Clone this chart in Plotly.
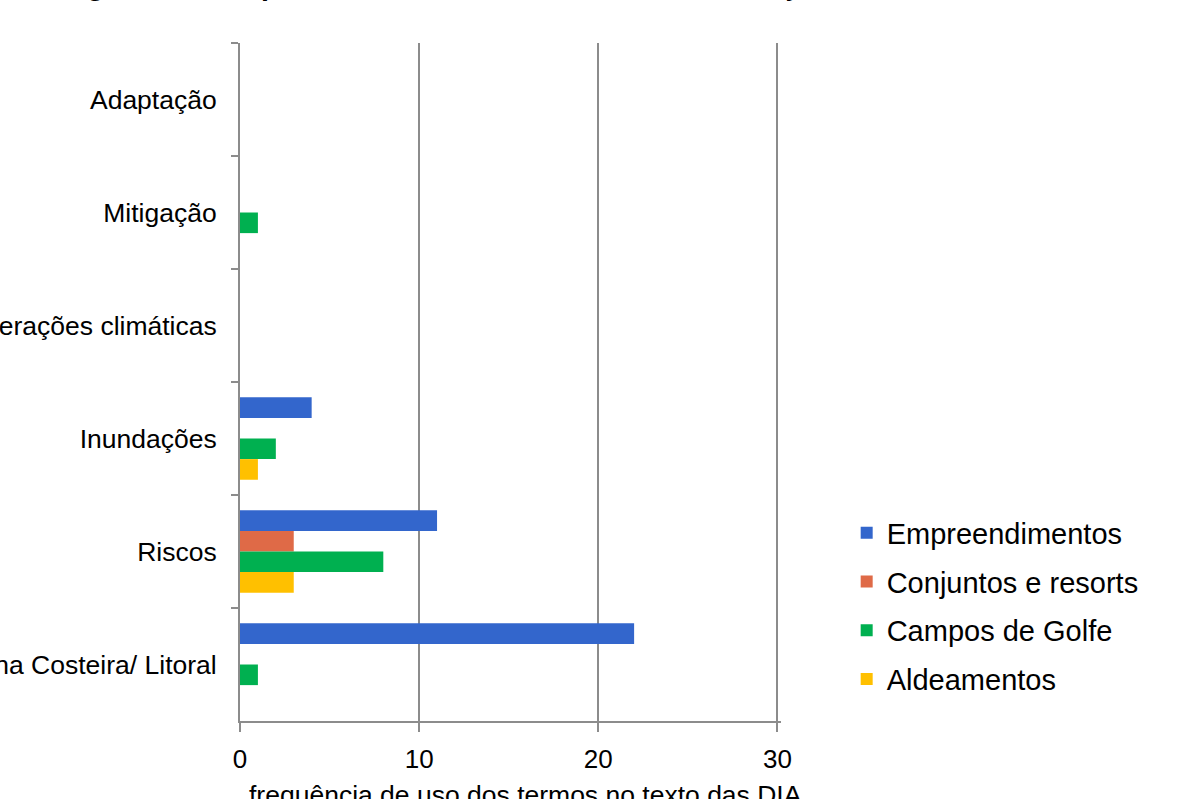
import plotly.graph_objects as go

# Terms searched in the DIA texts (top to bottom)
categories = [
    "Adaptação",
    "Mitigação",
    "Alterações climáticas",
    "Inundações",
    "Riscos",
    "Zona Costeira/ Litoral",
]

series_names = ["Empreendimentos", "Conjuntos e resorts", "Campos de Golfe", "Aldeamentos"]

empreendimentos = [0, 0, 0, 4, 11, 22]
conjuntos_resorts = [0, 0, 0, 0, 3, 0]
campos_golfe = [0, 1, 0, 2, 8, 1]
aldeamentos = [0, 0, 0, 1, 3, 0]

x_ticks = [0, 10, 20, 30]

series_values = [empreendimentos, conjuntos_resorts, campos_golfe, aldeamentos]
colors = ["#3366CC", "#DF6A47", "#00B050", "#FFC000"]

FONT = "Liberation Sans, Arial, sans-serif"
AXIS_GREY = "#8C8C8C"

fig = go.Figure()
for name, vals, col in zip(series_names, series_values, colors):
    fig.add_trace(
        go.Bar(
            y=categories,
            x=vals,
            name=name,
            orientation="h",
            marker=dict(color=col, line=dict(width=0)),
            legendgroup=name,
        )
    )

fig.update_layout(
    width=1204,
    height=799,
    margin=dict(l=240, r=423, t=43, b=78, pad=0),
    paper_bgcolor="white",
    plot_bgcolor="white",
    barmode="group",
    bargap=0.27,
    bargroupgap=0,
    font=dict(family=FONT, size=26, color="#000000"),
    showlegend=True,
    legend=dict(
        x=1.1214,
        xanchor="left",
        y=0.315,
        yanchor="top",
        font=dict(family=FONT, size=29, color="#000000"),
        traceorder="grouped",
        tracegroupgap=8,
        bgcolor="rgba(0,0,0,0)",
        itemwidth=30,
    ),
    xaxis=dict(
        range=[0, 30.2],
        tickvals=x_ticks,
        ticktext=[str(v) for v in x_ticks],
        showgrid=True,
        gridcolor=AXIS_GREY,
        gridwidth=2,
        zeroline=False,
        showline=True,
        linecolor=AXIS_GREY,
        linewidth=2,
        ticks="outside",
        ticklen=9,
        tickwidth=2,
        tickcolor=AXIS_GREY,
        ticklabelstandoff=5,
        tickfont=dict(family=FONT, size=26, color="#000000"),
        automargin=False,
    ),
    yaxis=dict(
        categoryorder="array",
        categoryarray=categories,
        autorange="reversed",
        showgrid=False,
        showline=True,
        linecolor=AXIS_GREY,
        linewidth=2,
        ticks="outside",
        tickson="boundaries",
        ticklen=7,
        tickwidth=2,
        tickcolor=AXIS_GREY,
        ticklabelstandoff=16,
        tickfont=dict(family=FONT, size=26.5, color="#000000"),
        automargin=False,
    ),
)

# Figure caption above the plot
fig.add_annotation(
    text="<b>Figura 4 – Frequência de uso de termos sobre alterações climáticas</b>",
    xref="paper",
    yref="paper",
    x=-0.334,
    y=1.0857,
    xanchor="left",
    yanchor="middle",
    showarrow=False,
    font=dict(family=FONT, size=29, color="#000000"),
)

# X axis title
fig.add_annotation(
    text="frequência de uso dos termos no texto das DIA",
    xref="paper",
    yref="paper",
    x=0.528,
    y=-0.1087,
    xanchor="center",
    yanchor="middle",
    showarrow=False,
    font=dict(family=FONT, size=26.5, color="#000000"),
)

fig.write_html("out.html")
